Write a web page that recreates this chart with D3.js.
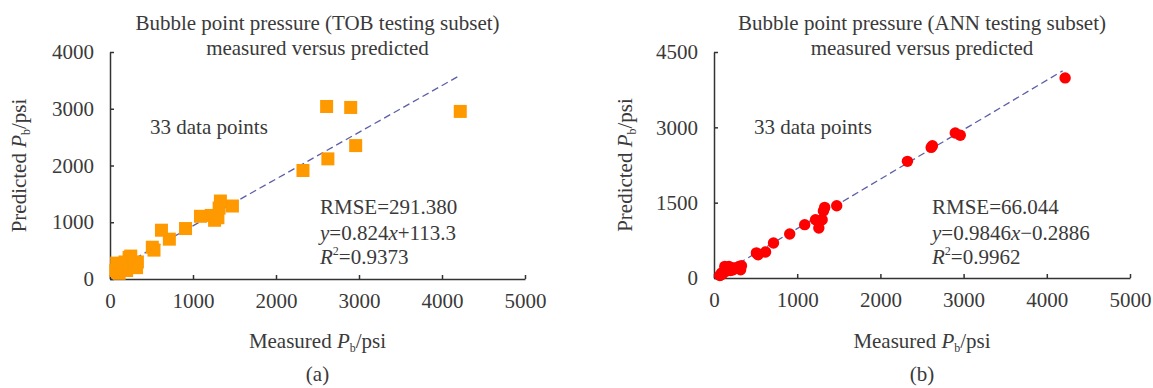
<!DOCTYPE html>
<html>
<head>
<meta charset="utf-8">
<script src="https://cdn.jsdelivr.net/npm/d3@7"></script>
<style>
  body { margin: 0; background: #fff; }
  svg text { font-family: "Liberation Serif", "Times New Roman", serif; fill: #3a3a3a; }
</style>
</head>
<body>
<svg id="chart" width="1153" height="388"></svg>
<script>
// //////// DATA

// Measured bubble point pressure, psi (same 33 testing samples for both panels)
const measured = [4220, 2960, 2900, 2625, 2610, 2325, 1475, 1330, 1315, 1300, 1260, 1220, 1090,
  910, 715, 620, 530, 510, 330, 320, 300, 250, 230, 220, 200, 180, 150, 130, 110, 100, 90, 80, 70];

// Predicted by TOB model
const tobPredicted = [2953, 2351, 3023, 2117, 3040, 1912, 1286, 1374, 1250, 1080, 1035, 1120, 1105,
  889, 702, 860, 509, 560, 300, 200, 250, 404, 380, 220, 150, 300, 250, 180, 100, 200, 130, 280, 150];

// Predicted by ANN model
const annPredicted = [3984, 2841, 2888, 2635, 2600, 2323, 1440, 1406, 1333, 1161, 996, 1161, 1062,
  876, 697, 518, 464, 500, 245, 165, 230, 200, 165, 200, 150, 230, 140, 231, 100, 80, 100, 60, 50];

const xTicks = [0, 1000, 2000, 3000, 4000, 5000];
const tobYTicks = [0, 1000, 2000, 3000, 4000];
const annYTicks = [0, 1500, 3000, 4500];

const tobFit = [0.824, 113.3];
const annFit = [0.9846, -0.2886];

const tobStats = ["291.380", "0.824", "+113.3", "0.9373"];
const annStats = ["66.044", "0.9846", "\u22120.2886", "0.9962"];

// //////// FUNCTIONS

const svg = d3.select("#chart");
const FS = 21;

function drawPanel(opt) {
  const x = d3.scaleLinear().domain([0, 5000]).range([opt.left, opt.right]);
  const y = d3.scaleLinear().domain([0, opt.yMax]).range([opt.bottom, opt.top]);
  const g = svg.append("g");

  // axes, ticks pointing inside
  const xAxis = d3.axisBottom(x).tickValues(xTicks).tickFormat(d3.format("d"))
    .tickSizeInner(-4).tickSizeOuter(0).tickPadding(14);
  const yAxis = d3.axisLeft(y).tickValues(opt.yTicks).tickFormat(d3.format("d"))
    .tickSizeInner(-4).tickSizeOuter(0).tickPadding(16);

  const gx = g.append("g").attr("transform", `translate(0,${opt.bottom})`).call(xAxis);
  const gy = g.append("g").attr("transform", `translate(${opt.left},0)`).call(yAxis);
  [gx, gy].forEach((a) => {
    a.selectAll("path, line").attr("stroke", "#333").attr("stroke-width", 1.5);
    a.selectAll("text").attr("font-size", FS).attr("fill", "#3a3a3a")
      .style("font-family", "'Liberation Serif', serif");
  });

  // fitted line
  const x0 = d3.min(measured), x1 = d3.max(measured) - 30;
  g.append("line")
    .attr("x1", x(x0)).attr("y1", y(opt.fit[0] * x0 + opt.fit[1]))
    .attr("x2", x(x1)).attr("y2", y(opt.fit[0] * x1 + opt.fit[1]))
    .attr("stroke", "#5c5fa8").attr("stroke-width", 1.3).attr("stroke-dasharray", "7,4");

  // points
  const pts = measured.map((m, i) => [m, opt.predicted[i]]);
  if (opt.marker === "square") {
    g.append("g").selectAll("rect").data(pts).join("rect")
      .attr("x", (d) => x(d[0]) - 6.5).attr("y", (d) => y(d[1]) - 6.5)
      .attr("width", 13).attr("height", 13).attr("fill", "#ff9900");
  } else {
    g.append("g").selectAll("circle").data(pts).join("circle")
      .attr("cx", (d) => x(d[0])).attr("cy", (d) => y(d[1]))
      .attr("r", 5.7).attr("fill", "#ff0000");
  }

  const cx = (opt.left + opt.right) / 2;

  // title
  const t = g.append("text").attr("text-anchor", "middle").attr("font-size", FS);
  t.append("tspan").attr("x", cx).attr("y", 30).text(opt.title);
  t.append("tspan").attr("x", cx).attr("y", 55).text("measured versus predicted");

  // count annotation
  g.append("text").attr("x", opt.left + 40).attr("y", 134).attr("font-size", FS).text("33 data points");

  // stats
  const sx = opt.left + opt.statsDx;
  const s = opt.stats;
  g.append("text").attr("x", sx).attr("y", 214).attr("font-size", FS).text(`RMSE=${s[0]}`);
  const eq = g.append("text").attr("x", sx).attr("y", 240).attr("font-size", FS);
  eq.append("tspan").attr("font-style", "italic").text("y");
  eq.append("tspan").text(`=${s[1]}`);
  eq.append("tspan").attr("font-style", "italic").text("x");
  eq.append("tspan").text(s[2]);
  const r2 = g.append("text").attr("x", sx).attr("y", 264).attr("font-size", FS);
  r2.append("tspan").attr("font-style", "italic").text("R");
  r2.append("tspan").attr("font-size", 12).attr("dy", -9).text("2");
  r2.append("tspan").attr("dy", 9).text(`=${s[3]}`);

  // x label
  const xl = g.append("text").attr("x", cx).attr("y", 348).attr("text-anchor", "middle").attr("font-size", FS);
  xl.append("tspan").text("Measured ");
  xl.append("tspan").attr("font-style", "italic").text("P");
  xl.append("tspan").attr("font-size", 12).attr("dy", 4).text("b");
  xl.append("tspan").attr("dy", -4).text("/psi");

  // y label
  const yl = g.append("text")
    .attr("transform", `translate(${opt.ylabelX},${(opt.top + opt.bottom) / 2}) rotate(-90)`)
    .attr("text-anchor", "middle").attr("font-size", FS);
  yl.append("tspan").text("Predicted ");
  yl.append("tspan").attr("font-style", "italic").text("P");
  yl.append("tspan").attr("font-size", 12).attr("dy", 4).text("b");
  yl.append("tspan").attr("dy", -4).text("/psi");

  // panel label
  g.append("text").attr("x", cx).attr("y", 381).attr("text-anchor", "middle").attr("font-size", FS).text(opt.label);
}

drawPanel({
  left: 110, right: 525, top: 52, bottom: 279, yMax: 4000, yTicks: tobYTicks,
  predicted: tobPredicted, fit: tobFit, marker: "square", stats: tobStats, statsDx: 210,
  title: "Bubble point pressure (TOB testing subset)", label: "(a)", ylabelX: 26
});

drawPanel({
  left: 714, right: 1130, top: 52, bottom: 278, yMax: 4500, yTicks: annYTicks,
  predicted: annPredicted, fit: annFit, marker: "circle", stats: annStats, statsDx: 218,
  title: "Bubble point pressure (ANN testing subset)", label: "(b)", ylabelX: 632
});
</script>
</body>
</html>
